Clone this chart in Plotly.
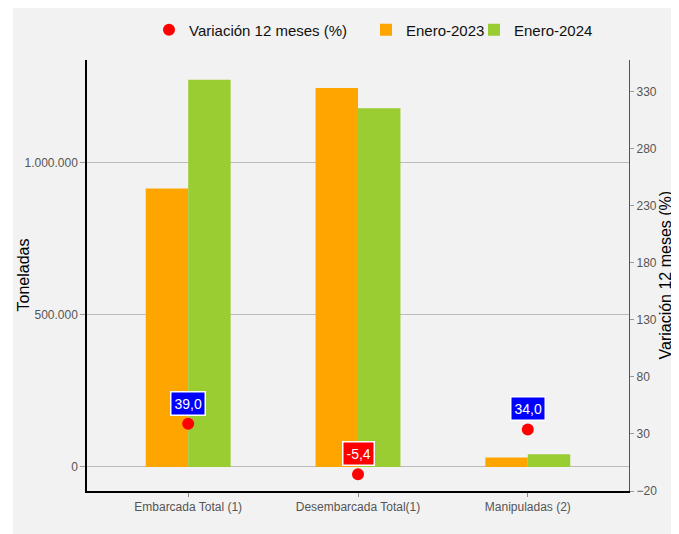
import plotly.graph_objects as go

categories = ["Embarcada Total (1)", "Desembarcada Total(1)", "Manipuladas (2)"]
enero_2023 = [915600, 1246000, 31000]
enero_2024 = [1272700, 1179000, 41500]
variacion = [39.0, -5.4, 34.0]
variacion_labels = ["39,0", "-5,4", "34,0"]

left_tickvals = [0, 500000, 1000000]
left_ticktext = ["0", "500.000", "1.000.000"]
right_tickvals = [-20, 30, 80, 130, 180, 230, 280, 330]

FONT = "Liberation Sans, Arial, sans-serif"

# page body has an 8px margin; work in figure coordinates (reference - 8)
OFF = 8
W, H = 679 - OFF, 534 - OFF
L, R, T, B = 87 - OFF, 629 - OFF, 60 - OFF, 491 - OFF
pw, ph = R - L, B - T


def px_x(rx):
    return (rx - OFF - L) / pw


def px_y(ry):
    return (B - (ry - OFF)) / ph


fig = go.Figure()
fig.add_trace(go.Bar(x=categories, y=enero_2023, name="Enero-2023",
                     marker=dict(color="#FFA500", line=dict(width=0)),
                     legend="legend2", hoverinfo="skip"))
fig.add_trace(go.Bar(x=categories, y=enero_2024, name="Enero-2024",
                     marker=dict(color="#9ACD32", line=dict(width=0)),
                     legend="legend3", hoverinfo="skip"))
fig.add_trace(go.Scatter(x=categories, y=variacion, name="Variación 12 meses (%)",
                         mode="markers", yaxis="y2",
                         marker=dict(color="#FF0000", size=12, symbol="circle"),
                         legend="legend"))

for c, v, t in zip(categories, variacion, variacion_labels):
    fig.add_annotation(x=c, y=v, yref="y2", text=t, showarrow=False,
                       yanchor="bottom", yshift=8,
                       font=dict(family=FONT, size=14, color="white"),
                       bgcolor="#0000FF" if v >= 0 else "#FF0000",
                       bordercolor="white", borderwidth=1.5, borderpad=3)

# axis titles
fig.add_annotation(xref="paper", yref="paper", x=px_x(23), y=px_y(275.5),
                   text="Toneladas", textangle=-90, showarrow=False,
                   xanchor="center", yanchor="middle",
                   font=dict(family=FONT, size=16, color="black"))
fig.add_annotation(xref="paper", yref="paper", x=px_x(665), y=px_y(275.5),
                   text="Variación 12 meses (%)", textangle=-90, showarrow=False,
                   xanchor="center", yanchor="middle",
                   font=dict(family=FONT, size=16, color="black"))

fig.add_shape(type="rect", xref="paper", yref="paper",
              x0=px_x(13), x1=px_x(672), y0=px_y(540), y1=px_y(5),
              fillcolor="#F2F2F2", line=dict(width=0), layer="below")

legend_common = dict(orientation="h", yanchor="middle", y=1 - (30 - OFF) / H, yref="container",
                     xanchor="left", xref="container", bgcolor="rgba(0,0,0,0)",
                     font=dict(family=FONT, size=15, color="#111"))

fig.update_layout(
    width=W, height=H,
    margin=dict(l=L, r=W - R, t=T, b=H - B, autoexpand=False),
    paper_bgcolor="white", plot_bgcolor="rgba(0,0,0,0)",
    barmode="group", bargap=0.5, bargroupgap=0,
    showlegend=True,
    legend=dict(x=(149 - OFF) / W, **legend_common),
    legend2=dict(x=(366 - OFF) / W, **legend_common),
    legend3=dict(x=(474 - OFF) / W, **legend_common),
    xaxis=dict(type="category", range=[-0.596, 2.596], automargin=False,
               showline=True, linecolor="black", linewidth=1.5,
               ticks="outside", ticklen=4, tickcolor="#888",
               tickfont=dict(family=FONT, size=12, color="#555"),
               showgrid=False, zeroline=False),
    yaxis=dict(range=[-79000, 1338000], tickvals=left_tickvals, ticktext=left_ticktext,
               automargin=False,
               showline=True, linecolor="black", linewidth=1.5,
               ticks="outside", ticklen=5, tickcolor="#999",
               tickfont=dict(family=FONT, size=12, color="#555"),
               showgrid=True, gridcolor="#BBBBBB", gridwidth=1.2,
               zeroline=False),
    yaxis2=dict(overlaying="y", side="right", range=[-20, 358], tickvals=right_tickvals,
                automargin=False,
                showline=True, linecolor="#555", linewidth=1.2,
                ticks="outside", ticklen=4, tickcolor="#999",
                tickfont=dict(family=FONT, size=12, color="#555"),
                showgrid=False, zeroline=False),
)

fig.write_html("out.html")
